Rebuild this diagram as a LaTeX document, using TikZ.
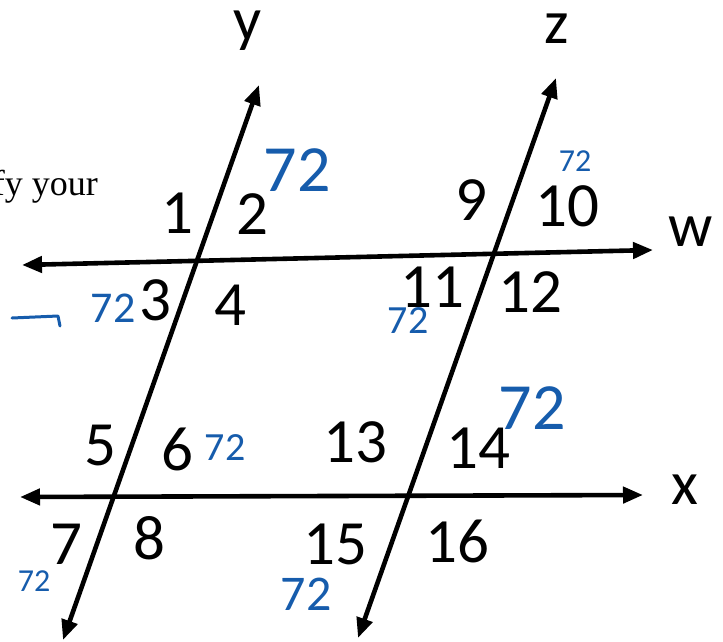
\documentclass[tikz,border=0pt]{standalone}
\usepackage{fontspec}
\setmainfont{Carlito}
\newfontfamily\bookfont{Liberation Serif}
\usetikzlibrary{arrows.meta}
\definecolor{inkblue}{RGB}{22,92,172}

\begin{document}
\begin{tikzpicture}[x=1pt, y=-1pt,
  % Angle numbers; handwritten notes take their size as note=<pt>
  num/.style={inner sep=0pt, font=\fontsize{63}{63}\selectfont},
  linelabel/.style={inner sep=0pt, font=\fontsize{62}{62}\selectfont},
  note/.style={inner sep=0pt, text=inkblue, font=\fontsize{#1}{#1}\selectfont},
  lineray/.style={{Triangle[length=20pt,width=16pt]}-{Triangle[length=20pt,width=16pt]}, line width=4.6pt},
]
\useasboundingbox (0,0) rectangle (723,642);

%% ── End points of the four lines ─────────────────────────────────────────
\coordinate (ytop) at (259,85);
\coordinate (ybot) at (63,640);
\coordinate (ztop) at (556,78);
\coordinate (zbot) at (358,638);
\coordinate (wleft)  at (22,265);
\coordinate (wright) at (653,250);
\coordinate (xleft)  at (20,497);
\coordinate (xright) at (643,495);

%% ── Lines ────────────────────────────────────────────────────────────────
\draw[lineray] (ybot) -- (ytop);
\draw[lineray] (zbot) -- (ztop);
\draw[lineray] (wleft) -- (wright);
\draw[lineray] (xleft) -- (xright);

%% ── Line names ───────────────────────────────────────────────────────────
\node[linelabel] (ylab) at (248,31) {y};
\node[linelabel] (zlab) at (557,29) {z};
\node[linelabel] (wlab) at (691,232) {w};
\node[linelabel] (xlab) at (685,490) {x};

%% ── Text cut off at the left edge ────────────────────────────────────────
\node[inner sep=0pt, anchor=base east, font=\bookfont\fontsize{36}{36}\selectfont]
  (cut) at (98,195) {fy your};

%% ── Angle numbers ────────────────────────────────────────────────────────
\node[num] (a1)  at (177,213) {1};
\node[num] (a2)  at (252,214) {2};
\node[num] (a3)  at (155,300) {3};
\node[num] (a4)  at (230,305) {4};
\node[num] (a5)  at (100,446) {5};
\node[num] (a6)  at (177,449) {6};
\node[num] (a7)  at (66,544)  {7};
\node[num] (a8)  at (149,538) {8};
\node[num] (a9)  at (471,200) {9};
\node[num] (a10) at (567,206) {10};
\node[num] (a11) at (432,287) {11};
\node[num] (a12) at (530,292) {12};
\node[num] (a13) at (355,442) {13};
\node[num] (a14) at (478,448) {14};
\node[num] (a15) at (335,544) {15};
\node[num] (a16) at (457,541) {16};

%% ── Handwritten answers ──────────────────────────────────────────────────
\node[note=66] (n2)  at (297,170) {72};
\node[note=44] (n3)  at (113,308) {72};
\node[note=32] (n10) at (575,161) {72};
\node[note=40] (n11) at (408,321) {72};
\node[note=40] (n6)  at (225,448) {72};
\node[note=32] (n7)  at (34,581)  {72};
\node[note=66] (n14) at (532,408) {72};
\node[note=50] (n15) at (306,594) {72};

% pen stroke left of 3
\draw[inkblue, line width=3pt, line cap=round, line join=round]
  (12,318) -- (58,316) -- (60,326);

\end{tikzpicture}
\end{document}
